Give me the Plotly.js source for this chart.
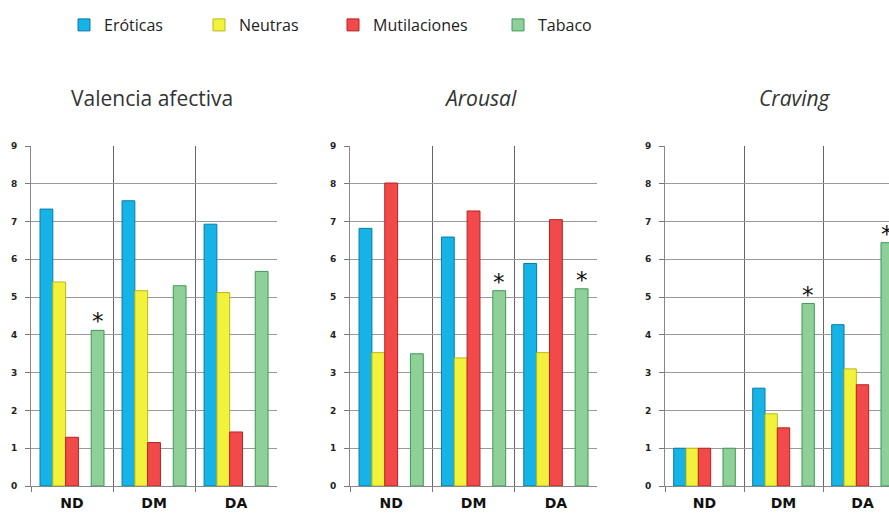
<!DOCTYPE html>
<html>
<head>
<meta charset="utf-8">
<script src="https://cdn.plot.ly/plotly-3.0.1.min.js"></script>
<style>html,body{margin:0;padding:0;background:#fff;}#chart{width:889px;height:515px;}</style>
</head>
<body>
<div id="chart"></div>
<script>
const groups = ['ND', 'DM', 'DA'];
const seriesNames = ['Eróticas', 'Neutras', 'Mutilaciones', 'Tabaco'];
const panelTitles = ['Valencia afectiva', '<i>Arousal</i>', '<i>Craving</i>'];
const yTicks = [0, 1, 2, 3, 4, 5, 6, 7, 8, 9];

// Valencia afectiva
const valErot = [7.33, 7.55, 6.93];
const valNeut = [5.40, 5.17, 5.12];
const valMuti = [1.29, 1.15, 1.43];
const valTab  = [4.12, 5.30, 5.68];
const valSig  = [true, false, false];

// Arousal
const aroErot = [6.82, 6.59, 5.89];
const aroNeut = [3.53, 3.39, 3.53];
const aroMuti = [8.02, 7.28, 7.05];
const aroTab  = [3.50, 5.17, 5.22];
const aroSig  = [false, true, true];

// Craving
const craErot = [1.00, 2.59, 4.27];
const craNeut = [1.00, 1.91, 3.10];
const craMuti = [1.00, 1.54, 2.68];
const craTab  = [1.00, 4.83, 6.44];
const craSig  = [false, true, true];

const spacer = [0, 0, 0];

const fills = ['#16b4e6', '#f2f23c', '#f24a4a', '#8fcf98'];
const edges = ['#0a7aa6', '#b8b818', '#b82222', '#3c9a58'];

const panels = [
  {e: valErot, n: valNeut, m: valMuti, t: valTab, sig: valSig},
  {e: aroErot, n: aroNeut, m: aroMuti, t: aroTab, sig: aroSig},
  {e: craErot, n: craNeut, m: craMuti, t: craTab, sig: craSig}
];

const legendIds = ['legend', 'legend2', 'legend3', 'legend4'];
const legendTextX = [104, 239, 373, 538];

const traces = [];
const annotations = [];
const bargap = 0.22;
const greenOffset = 0.4 * (1 - bargap);

panels.forEach((p, k) => {
  const xa = k === 0 ? 'x' : 'x' + (k + 1);
  const ya = k === 0 ? 'y' : 'y' + (k + 1);
  const vals = [p.e, p.n, p.m, null, p.t];
  const idx = [0, 1, 2, -1, 3];
  vals.forEach((v, j) => {
    if (v === null) {
      traces.push({type: 'bar', x: groups, y: spacer, xaxis: xa, yaxis: ya,
        marker: {color: 'rgba(0,0,0,0)', line: {width: 0}}, showlegend: false, hoverinfo: 'skip'});
    } else {
      const s = idx[j];
      traces.push({type: 'bar', x: groups, y: v, xaxis: xa, yaxis: ya, name: seriesNames[s],
        legend: legendIds[s], legendgroup: seriesNames[s], showlegend: k === 0,
        marker: {color: fills[s], line: {color: edges[s], width: 1}}});
    }
  });
  p.sig.forEach((sg, i) => {
    if (sg) {
      annotations.push({xref: xa, yref: ya, x: i + greenOffset, y: p.t[i], text: '*',
        showarrow: false, yanchor: 'bottom', yshift: -6,
        font: {family: 'DejaVu Sans', size: 23, color: '#111'}});
    }
  });
});

const titleX = [152, 480, 795];
panelTitles.forEach((t, k) => {
  annotations.push({xref: 'paper', yref: 'paper', x: titleX[k] / 889, y: 1 - 98 / 515,
    xanchor: 'center', yanchor: 'middle', text: t, showarrow: false,
    font: {family: 'Open Sans, DejaVu Sans', size: 21, color: '#333'}});
});

const yDomain = [(515 - 486) / 515, (515 - 146) / 515];
const xDomains = [[31 / 889, 277 / 889], [350 / 889, 597 / 889], [665 / 889, 1]];
const xRanges = [[-0.5, 2.499], [-0.5, 2.499], [-0.5, (889 - 665) / 79 - 0.5]];

const layout = {
  width: 889, height: 515,
  margin: {l: 0, r: 0, t: 0, b: 0},
  paper_bgcolor: '#fff', plot_bgcolor: '#fff',
  barmode: 'group', bargap: bargap, bargroupgap: 0,
  showlegend: true,
  annotations: annotations
};

legendIds.forEach((id, s) => {
  layout[id] = {orientation: 'h', x: (legendTextX[s] - 40) / 889, xanchor: 'left',
    y: 1 - 25 / 515, yanchor: 'middle', itemwidth: 30,
    font: {family: 'Open Sans, DejaVu Sans', size: 16, color: '#222'},
    bgcolor: 'rgba(0,0,0,0)'};
});

for (let k = 0; k < 3; k++) {
  const sx = k === 0 ? '' : String(k + 1);
  layout['xaxis' + sx] = {
    domain: xDomains[k], anchor: k === 0 ? 'y' : 'y' + sx, type: 'category',
    range: xRanges[k], tickson: 'boundaries', ticks: 'outside', ticklen: 5, tickcolor: '#777',
    showgrid: true, gridcolor: '#666', gridwidth: 1, showline: true, linecolor: '#888', linewidth: 1,
    tickfont: {family: 'DejaVu Sans', size: 14, color: '#111', weight: 'bold'},
    ticklabelstandoff: 4, fixedrange: true, zeroline: false
  };
  layout['yaxis' + sx] = {
    domain: yDomain, anchor: k === 0 ? 'x' : 'x' + sx, range: [0, 9],
    tickvals: yTicks, ticktext: yTicks.map(String), ticks: 'outside', ticklen: 5, tickcolor: '#777',
    showgrid: true, gridcolor: '#9a9a9a', gridwidth: 1, showline: true, linecolor: '#888', linewidth: 1,
    zeroline: false, tickfont: {family: 'DejaVu Sans', size: 9, color: '#222', weight: 'bold'},
    ticklabelstandoff: 6, fixedrange: true
  };
}

Plotly.newPlot('chart', traces, layout, {displayModeBar: false, staticPlot: true});
</script>
</body>
</html>
